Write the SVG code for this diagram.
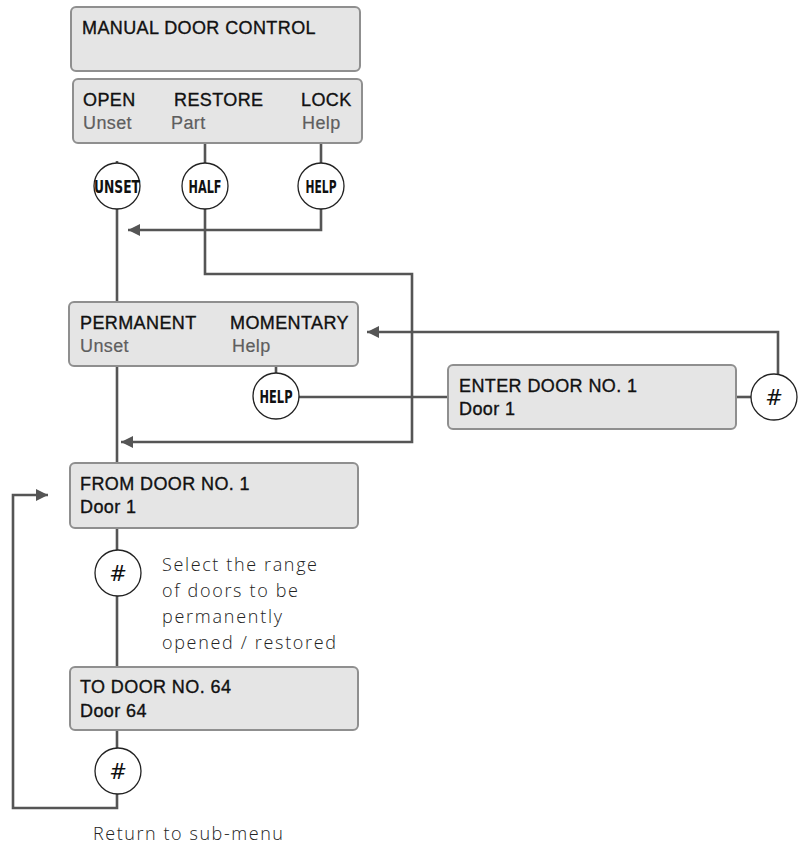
<svg xmlns="http://www.w3.org/2000/svg" width="798" height="847" viewBox="0 0 798 847">
<style>
.box{fill:#e5e5e5;stroke:#8f8f8f;stroke-width:2}
.t{font-family:"Liberation Sans",Arial,sans-serif;font-size:18px;letter-spacing:0.4px;fill:#111;stroke:#111;stroke-width:0.35}
.g{fill:#5e5e5e;stroke:#5e5e5e;stroke-width:0.2}
.c{fill:#fff;stroke:#222;stroke-width:1.3}
.cl{font-family:"DejaVu Sans",sans-serif;font-weight:bold;font-size:18px;fill:#111;text-anchor:middle}
.h{font-family:"DejaVu Sans",sans-serif;font-style:italic;font-size:21px;fill:#111;text-anchor:middle}
.ln{fill:none;stroke:#555;stroke-width:2.6}
.note{font-family:"Open Sans","DejaVu Sans",sans-serif;font-weight:300;font-size:18px;fill:#222}
</style>
<defs>
<marker id="ah" markerWidth="12" markerHeight="12" viewBox="0 0 12 12" refX="12" refY="6" orient="auto" markerUnits="userSpaceOnUse">
<path d="M0,0 L12,6 L0,12 z" fill="#555"/>
</marker>
</defs>
<g id="connectors">
<line class="ln" x1="117" y1="161" x2="117" y2="164"/>
<line class="ln" x1="205" y1="143" x2="205" y2="163"/>
<line class="ln" x1="321" y1="143" x2="321" y2="163"/>
<polyline class="ln" points="321,209 321,230 128,230" marker-end="url(#ah)"/>
<line class="ln" x1="117" y1="209" x2="117" y2="302"/>
<polyline class="ln" points="205,209 205,274 412,274 412,442 121,442" marker-end="url(#ah)"/>
<line class="ln" x1="117" y1="366" x2="117" y2="463"/>
<line class="ln" x1="276" y1="366" x2="276" y2="373"/>
<line class="ln" x1="299" y1="397" x2="448" y2="397"/>
<line class="ln" x1="736" y1="397" x2="751" y2="397"/>
<polyline class="ln" points="778,375 778,332 367,332" marker-end="url(#ah)"/>
<line class="ln" x1="117" y1="528" x2="117" y2="550"/>
<line class="ln" x1="117" y1="596" x2="117" y2="667"/>
<line class="ln" x1="117" y1="730" x2="117" y2="748"/>
<polyline class="ln" points="117,794 117,808 13,808 13,495 48,495" marker-end="url(#ah)"/>
</g>
<g id="manual">
<rect class="box" x="71" y="7" width="289" height="64" rx="5"/>
<text class="t" x="82" y="34">MANUAL DOOR CONTROL</text>
</g>
<g id="menu">
<rect class="box" x="73" y="79" width="289" height="64" rx="5"/>
<text class="t" x="83" y="106">OPEN</text>
<text class="t" x="174" y="106">RESTORE</text>
<text class="t" x="301" y="106">LOCK</text>
<text class="t g" x="83" y="129">Unset</text>
<text class="t g" x="171" y="129">Part</text>
<text class="t g" x="302" y="129">Help</text>
</g>
<g id="c-unset"><circle class="c" cx="117" cy="186" r="23"/><text class="cl" x="117" y="193" textLength="46" lengthAdjust="spacingAndGlyphs">UNSET</text></g>
<g id="c-half"><circle class="c" cx="205" cy="186" r="23"/><text class="cl" x="205" y="193" textLength="33" lengthAdjust="spacingAndGlyphs">HALF</text></g>
<g id="c-help1"><circle class="c" cx="321" cy="186" r="23"/><text class="cl" x="321" y="193" textLength="31" lengthAdjust="spacingAndGlyphs">HELP</text></g>
<g id="permanent">
<rect class="box" x="69" y="302" width="289" height="64" rx="5"/>
<text class="t" x="80" y="329">PERMANENT</text>
<text class="t" x="230" y="329">MOMENTARY</text>
<text class="t g" x="80" y="352">Unset</text>
<text class="t g" x="232" y="352">Help</text>
</g>
<g id="c-help2"><circle class="c" cx="276" cy="396" r="23"/><text class="cl" x="276" y="403" textLength="33" lengthAdjust="spacingAndGlyphs">HELP</text></g>
<g id="enter">
<rect class="box" x="448" y="365" width="288" height="64" rx="5"/>
<text class="t" x="459" y="392">ENTER DOOR NO. 1</text>
<text class="t" x="459" y="415">Door 1</text>
</g>
<g id="c-hash1"><circle class="c" cx="774" cy="397" r="23"/><text class="h" x="774" y="405">#</text></g>
<g id="from">
<rect class="box" x="70" y="463" width="288" height="65" rx="5"/>
<text class="t" x="80" y="490">FROM DOOR NO. 1</text>
<text class="t" x="80" y="513">Door 1</text>
</g>
<g id="c-hash2"><circle class="c" cx="118" cy="573" r="23"/><text class="h" x="118" y="581">#</text></g>
<g id="note1">
<text class="note" x="162" y="571" textLength="155" lengthAdjust="spacing">Select the range</text>
<text class="note" x="162" y="597" textLength="136" lengthAdjust="spacing">of doors to be</text>
<text class="note" x="162" y="623" textLength="120" lengthAdjust="spacing">permanently</text>
<text class="note" x="162" y="649" textLength="174" lengthAdjust="spacing">opened / restored</text>
</g>
<g id="to">
<rect class="box" x="70" y="667" width="288" height="63" rx="5"/>
<text class="t" x="80" y="693">TO DOOR NO. 64</text>
<text class="t" x="80" y="717">Door 64</text>
</g>
<g id="c-hash3"><circle class="c" cx="118" cy="771" r="23"/><text class="h" x="118" y="779">#</text></g>
<g id="note2">
<text class="note" x="93" y="840" textLength="190" lengthAdjust="spacing">Return to sub-menu</text>
</g>
</svg>
